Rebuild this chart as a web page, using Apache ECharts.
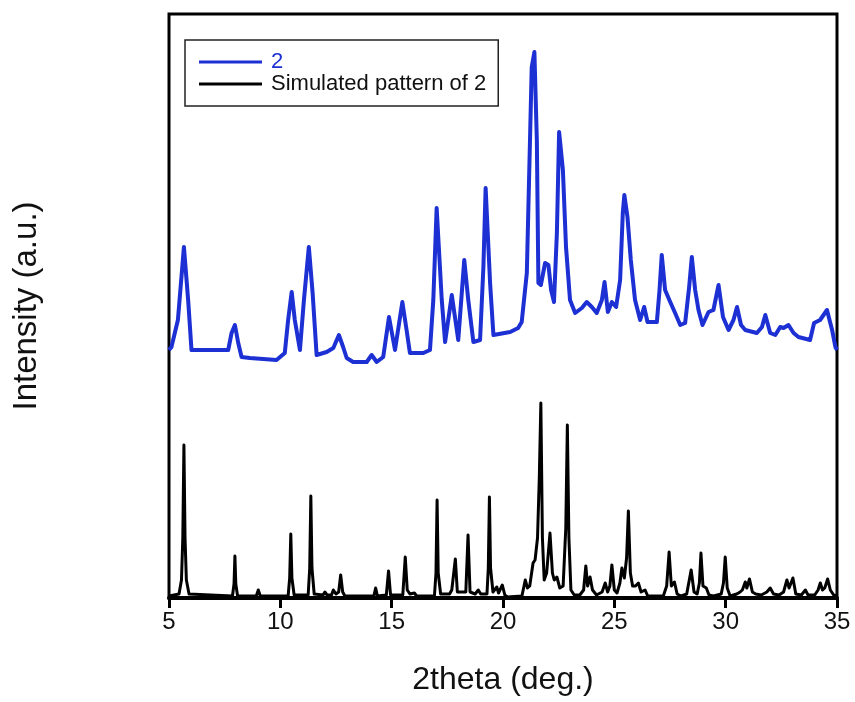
<!DOCTYPE html>
<html>
<head>
<meta charset="utf-8">
<script src="https://cdn.jsdelivr.net/npm/echarts@6/dist/echarts.min.js"></script>
<style>
  html, body { margin: 0; padding: 0; background: #fff; }
  #chart { width: 855px; height: 702px; }
</style>
</head>
<body>
<div id="chart"></div>
<script>
var fontFamily = '"Liberation Sans", Arial, Helvetica, sans-serif';
var blue = '#1c30d4';

// 轴刻度
var xTicks = [5, 10, 15, 20, 25, 30, 35];
var seriesNames = ['2', 'Simulated pattern of 2'];

// 实测图谱 (2theta, 强度)
var measured = [
    [5.0, 248], [5.11, 251], [5.40, 278], [5.67, 351], [5.86, 298], [6.01, 248],
    [7.66, 248], [7.81, 265], [7.96, 273], [8.11, 255], [8.26, 241], [8.63, 240],
    [9.83, 238], [10.20, 245], [10.35, 278], [10.51, 306], [10.65, 278], [10.88, 248],
    [11.06, 298], [11.28, 351], [11.45, 305], [11.63, 243], [12.08, 246], [12.38, 250],
    [12.63, 263], [12.82, 251], [12.98, 240], [13.27, 236], [13.88, 236], [14.10, 243],
    [14.33, 236], [14.62, 241], [14.88, 281], [15.15, 248], [15.48, 296], [15.67, 268],
    [15.82, 245], [16.42, 245], [16.72, 248], [16.87, 298], [17.02, 390], [17.25, 298],
    [17.40, 256], [17.70, 303], [17.99, 258], [18.26, 338], [18.44, 298], [18.67, 256],
    [18.97, 258], [19.12, 331], [19.22, 410], [19.42, 315], [19.57, 263], [20.32, 266],
    [20.68, 270], [20.84, 276], [21.07, 325], [21.22, 465], [21.29, 531], [21.41, 546],
    [21.52, 458], [21.59, 315], [21.70, 313], [21.89, 335], [22.04, 333], [22.16, 308],
    [22.29, 296], [22.42, 365], [22.52, 466], [22.69, 428], [22.83, 351], [23.01, 298],
    [23.24, 285], [23.54, 290], [23.76, 296], [23.99, 291], [24.21, 285], [24.44, 298],
    [24.56, 316], [24.71, 286], [24.89, 296], [25.08, 291], [25.26, 318], [25.38, 385],
    [25.45, 403], [25.59, 381], [25.74, 338], [25.93, 298], [26.16, 278], [26.34, 291],
    [26.49, 276], [26.91, 276], [27.03, 308], [27.13, 343], [27.28, 308], [27.51, 296],
    [27.73, 285], [27.96, 273], [28.18, 275], [28.36, 311], [28.48, 341], [28.63, 308],
    [28.78, 288], [28.96, 273], [29.23, 286], [29.45, 288], [29.68, 313], [29.88, 281],
    [30.13, 268], [30.35, 278], [30.51, 291], [30.69, 273], [30.88, 268], [31.40, 265],
    [31.63, 271], [31.78, 283], [32.00, 265], [32.23, 263], [32.45, 271], [32.60, 270],
    [32.82, 273], [33.05, 265], [33.27, 261], [33.79, 258], [33.97, 275], [34.24, 278],
    [34.55, 288], [34.78, 268], [34.93, 251], [35.0, 248]
];

// 模拟图谱 (2theta, 强度)
var simulated = [
    [5.0, 2], [5.45, 4], [5.56, 18], [5.62, 60], [5.67, 153], [5.72, 60], [5.78, 18], [5.9, 4],
    [7.85, 2], [7.92, 14], [7.96, 42], [8.0, 14], [8.08, 2], [8.92, 2], [9.01, 8], [9.1, 2],
    [10.35, 2], [10.42, 20], [10.47, 64], [10.52, 20], [10.62, 3], [11.25, 3], [11.32, 30],
    [11.37, 102], [11.42, 30], [11.52, 4], [11.92, 3], [12.0, 6], [12.1, 3], [12.3, 3],
    [12.38, 8], [12.5, 4], [12.62, 6], [12.71, 23], [12.8, 6], [12.9, 2], [14.2, 2],
    [14.28, 10], [14.36, 2], [14.76, 3], [14.86, 27], [14.95, 3], [15.5, 3], [15.61, 41],
    [15.7, 8], [15.82, 4], [16.02, 5], [16.12, 2], [16.92, 2], [16.99, 25], [17.04, 98],
    [17.09, 25], [17.2, 4], [17.6, 4], [17.7, 8], [17.78, 10], [17.86, 39], [17.95, 6],
    [18.33, 6], [18.43, 63], [18.52, 6], [18.75, 4], [18.89, 8], [19.0, 4], [19.28, 4],
    [19.34, 30], [19.39, 101], [19.44, 30], [19.55, 6], [19.72, 11], [19.8, 5], [19.97, 13],
    [20.08, 3], [20.2, 1], [20.85, 2], [21.0, 18], [21.1, 10], [21.2, 12], [21.35, 35],
    [21.44, 38], [21.55, 60], [21.63, 120], [21.70, 195], [21.77, 60], [21.85, 18],
    [21.96, 25], [22.11, 65], [22.22, 25], [22.3, 18], [22.42, 21], [22.55, 10], [22.7, 12],
    [22.82, 70], [22.89, 173], [22.96, 60], [23.05, 8], [23.2, 3], [23.45, 3], [23.62, 8],
    [23.72, 32], [23.8, 12], [23.91, 21], [24.02, 8], [24.2, 3], [24.45, 6], [24.59, 15],
    [24.7, 6], [24.8, 12], [24.89, 33], [25.0, 8], [25.12, 5], [25.25, 15], [25.34, 30],
    [25.45, 20], [25.55, 40], [25.63, 87], [25.72, 25], [25.82, 12], [25.95, 12], [26.08, 15],
    [26.2, 6], [26.38, 8], [26.5, 2], [27.2, 2], [27.35, 12], [27.46, 46], [27.56, 12],
    [27.7, 16], [27.82, 4], [28.0, 2], [28.25, 4], [28.45, 28], [28.58, 6], [28.72, 4],
    [28.82, 15], [28.89, 45], [28.98, 12], [29.13, 10], [29.25, 3], [29.45, 2], [29.8, 4],
    [29.9, 15], [29.98, 41], [30.07, 10], [30.2, 2], [30.5, 4], [30.65, 6], [30.75, 8],
    [30.88, 16], [30.95, 10], [31.07, 19], [31.2, 6], [31.35, 4], [31.6, 3], [31.85, 6],
    [32.0, 10], [32.15, 4], [32.4, 3], [32.6, 6], [32.75, 18], [32.85, 10], [33.02, 20],
    [33.15, 4], [33.4, 3], [33.58, 8], [33.7, 3], [34.0, 3], [34.15, 8], [34.25, 15],
    [34.35, 8], [34.45, 10], [34.58, 19], [34.7, 8], [34.85, 3], [35.0, 2]
];

var myChart = echarts.init(document.getElementById('chart'));
var option = {
    animation: false,
    textStyle: { fontFamily: fontFamily },
    grid: {
        show: true,
        left: 169,
        right: 18,
        top: 14,
        bottom: 104,
        borderColor: '#000',
        borderWidth: 3
    },
    legend: {
        orient: 'vertical',
        left: 185,
        top: 40,
        padding: [11, 12, 11, 14],
        itemGap: 0,
        itemWidth: 63,
        itemHeight: 3,
        icon: 'rect',
        borderColor: '#222',
        borderWidth: 1.5,
        borderRadius: 0,
        textStyle: { fontSize: 22, lineHeight: 21, color: '#111', padding: [0, 0, 0, 4] },
        data: [
            { name: seriesNames[0], textStyle: { color: blue } },
            { name: seriesNames[1] }
        ]
    },
    xAxis: {
        type: 'value',
        min: xTicks[0],
        max: xTicks[xTicks.length - 1],
        interval: 5,
        name: '2theta (deg.)',
        nameLocation: 'middle',
        nameGap: 66,
        nameTextStyle: { fontSize: 32, color: '#111' },
        axisLine: { show: true, lineStyle: { color: '#000', width: 4 } },
        axisTick: { show: true, inside: false, length: 10, lineStyle: { color: '#000', width: 3 } },
        axisLabel: { fontSize: 24, color: '#111', margin: 12 },
        splitLine: { show: false }
    },
    yAxis: {
        type: 'value',
        min: 0,
        max: 584,
        name: 'Intensity (a.u.)',
        nameLocation: 'middle',
        nameGap: 126,
        nameRotate: 90,
        nameTextStyle: { fontSize: 33, color: '#111' },
        axisLine: { show: false },
        axisTick: { show: false },
        axisLabel: { show: false },
        splitLine: { show: false }
    },
    series: [
        {
            name: seriesNames[0],
            type: 'line',
            data: measured,
            showSymbol: false,
            symbol: 'none',
            color: blue,
            lineStyle: { color: blue, width: 4, join: 'round' }
        },
        {
            name: seriesNames[1],
            type: 'line',
            data: simulated,
            showSymbol: false,
            symbol: 'none',
            color: '#000',
            lineStyle: { color: '#000', width: 3, join: 'round' }
        }
    ]
};
myChart.setOption(option);
</script>
</body>
</html>
